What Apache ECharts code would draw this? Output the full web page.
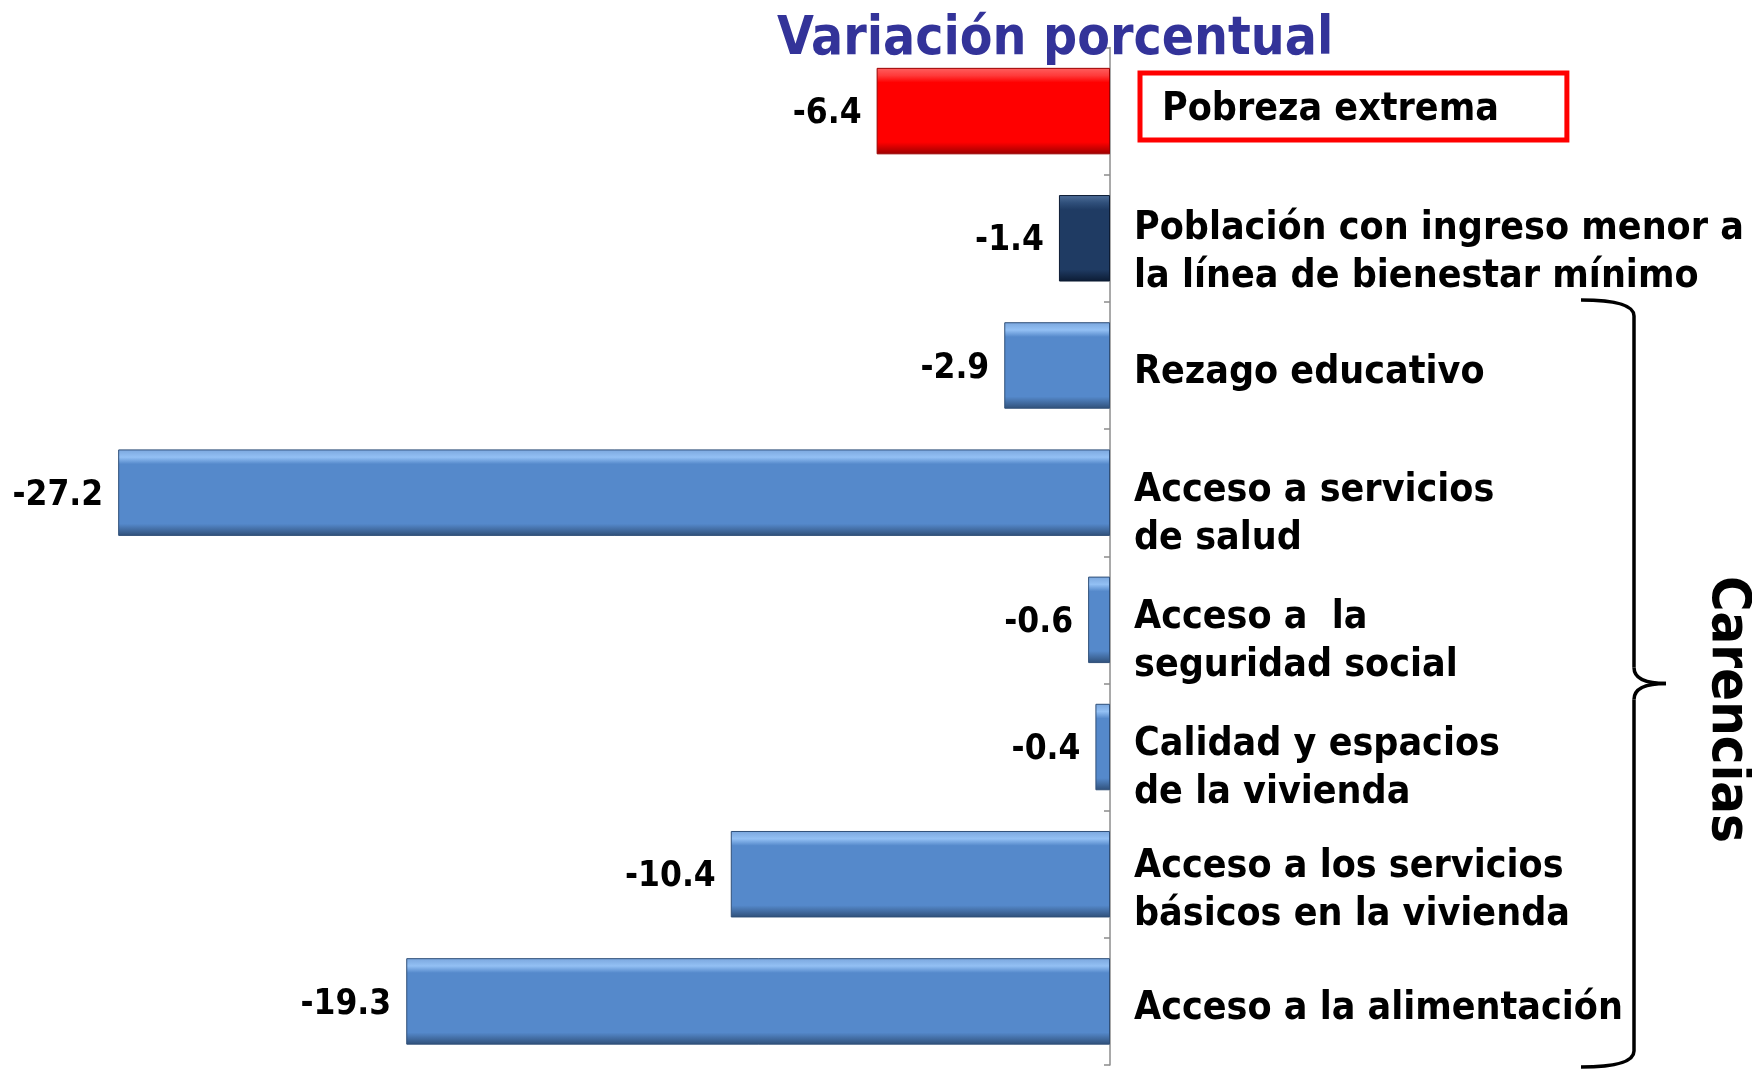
<!DOCTYPE html>
<html>
<head>
    <meta charset="UTF-8">
    <title>Variación porcentual</title>
    <script type="text/javascript" src="https://cdn.jsdelivr.net/npm/echarts@6/dist/echarts.min.js"></script>
    <style type="text/css">
        html, body {
            margin: 0;
            padding: 0;
            background: #fff;
        }
        #main_chart {
            width: 1752px;
            height: 1073px;
        }
    </style>
</head>
<body>
<div id="main_chart"></div>

<script type="text/javascript">
    // datos
    var categories = [
        'Pobreza extrema',
        'Población con ingreso menor a\nla línea de bienestar mínimo',
        'Rezago educativo',
        'Acceso a servicios\nde salud',
        'Acceso a  la\nseguridad social',
        'Calidad y espacios\nde la vivienda',
        'Acceso a los servicios\nbásicos en la vivienda',
        'Acceso a la alimentación'
    ];
    var values = [-6.4, -1.4, -2.9, -27.2, -0.6, -0.4, -10.4, -19.3];
    var titleText = 'Variación porcentual';
    var groupText = 'Carencias';
    var groupFrom = 2;   // primer indice de carencias
    var groupTo = 7;     // ultimo indice

    var FONT = '"DejaVu Sans Condensed", "DejaVu Sans", sans-serif';

    // desplazamiento vertical de cada etiqueta (alto de la linea vacia de arriba)
    var labelSpacer = [0, 30, 14, 44, 44, 44, 34, 14];

    // colores tipo bisel
    var redBar = ['#ff6060', '#ff3a3a', '#ff0000', '#9a0000'];
    var navyBar = ['#50709a', '#2f4f7a', '#1f3b63', '#0c1b33'];
    var blueBar = ['#7aa6dd', '#93c0f4', '#5589cb', '#2f4f78'];

    function bevel(c) {
        return new echarts.graphic.LinearGradient(0, 0, 0, 1, [
            {offset: 0, color: c[0]},
            {offset: 0.09, color: c[1]},
            {offset: 0.17, color: c[2]},
            {offset: 0.86, color: c[2]},
            {offset: 1, color: c[3]}
        ]);
    }

    var barData = [];
    for (var i = 0; i < values.length; i++) {
        var c = i === 0 ? redBar : (i === 1 ? navyBar : blueBar);
        barData.push({
            value: values[i],
            itemStyle: {
                color: bevel(c),
                borderColor: c[3],
                borderWidth: 1
            }
        });
    }

    var richLabel = {
        t: {
            fontFamily: FONT,
            fontWeight: 'bold',
            fontSize: 39,
            lineHeight: 48,
            color: '#000'
        },
        sp: {
            fontSize: 8,
            width: 6
        },
        box: {
            fontFamily: FONT,
            fontWeight: 'bold',
            fontSize: 39,
            lineHeight: 44,
            color: '#000',
            borderColor: '#ff0000',
            borderWidth: 5,
            padding: [17, 68, 11, 22]
        }
    };
    [9, 14, 30, 34, 44].forEach(function (h) {
        richLabel['s' + h] = {fontSize: 6, lineHeight: h};
    });

    var chart = echarts.init(document.getElementById('main_chart'));

    chart.setOption({
        animation: false,
        backgroundColor: '#fff',
        title: {
            text: titleText,
            left: 777,
            top: 14,
            padding: 0,
            textStyle: {
                fontFamily: FONT,
                fontWeight: 'bold',
                fontSize: 53,
                color: '#333399'
            }
        },
        grid: {
            left: 89,
            right: 642,
            top: 47.5,
            bottom: 8,
            containLabel: false,
            outerBoundsMode: 'none'
        },
        xAxis: {
            type: 'value',
            min: -28,
            max: 0,
            show: false
        },
        yAxis: {
            type: 'category',
            data: categories,
            inverse: true,
            position: 'right',
            axisLine: {
                show: true,
                lineStyle: {color: '#8c8c8c', width: 1.5}
            },
            axisTick: {
                show: true,
                inside: true,
                length: 6,
                lineStyle: {color: '#8c8c8c', width: 1.5}
            },
            splitLine: {show: false},
            axisLabel: {
                interval: 0,
                margin: 24,
                align: 'left',
                formatter: function (v, idx) {
                    if (idx === 0) {
                        return '{sp| }{box|' + v + '}\n{s9| }';
                    }
                    var lines = v.split('\n').map(function (s) {
                        return '{t|' + s + '}';
                    });
                    var sp = labelSpacer[idx];
                    if (sp) {
                        lines.unshift('{s' + sp + '| }');
                    }
                    return lines.join('\n');
                },
                rich: richLabel
            }
        },
        series: [{
            name: 'Variación',
            type: 'bar',
            data: barData,
            barCategoryGap: '32%',
            label: {
                show: true,
                position: 'left',
                distance: 15,
                offset: [0, 3],
                fontFamily: FONT,
                fontWeight: 'bold',
                fontSize: 35,
                color: '#000',
                formatter: function (p) {
                    return p.value.toFixed(1);
                }
            }
        }]
    });

    // llave de "Carencias" a partir de las posiciones del eje
    var yFirst = chart.convertToPixel({yAxisIndex: 0}, categories[groupFrom]);
    var ySecond = chart.convertToPixel({yAxisIndex: 0}, categories[groupFrom + 1]);
    var band = ySecond - yFirst;
    var yLast = chart.convertToPixel({yAxisIndex: 0}, categories[groupTo]);
    var braceTop = yFirst - band / 2 - 2;
    var braceBot = yLast + band / 2 + 2;
    var braceMid = (braceTop + braceBot) / 2;
    var xl = 1581, xv = 1634, xt = 1666, r = 16;
    var braceStyle = {stroke: '#000', lineWidth: 3.5, fill: null};

    chart.setOption({
        graphic: [
            {type: 'bezierCurve', shape: {x1: xl, y1: braceTop, cpx1: xv, cpy1: braceTop, x2: xv, y2: braceTop + r}, style: braceStyle},
            {type: 'line', shape: {x1: xv, y1: braceTop + r, x2: xv, y2: braceMid - r}, style: braceStyle},
            {type: 'bezierCurve', shape: {x1: xv, y1: braceMid - r, cpx1: xv, cpy1: braceMid, x2: xt, y2: braceMid}, style: braceStyle},
            {type: 'bezierCurve', shape: {x1: xt, y1: braceMid, cpx1: xv, cpy1: braceMid, x2: xv, y2: braceMid + r}, style: braceStyle},
            {type: 'line', shape: {x1: xv, y1: braceMid + r, x2: xv, y2: braceBot - r}, style: braceStyle},
            {type: 'bezierCurve', shape: {x1: xv, y1: braceBot - r, cpx1: xv, cpy1: braceBot, x2: xl, y2: braceBot}, style: braceStyle},
            {
                type: 'text',
                x: 1727,
                y: braceMid + 26,
                rotation: -Math.PI / 2,
                style: {
                    text: groupText,
                    fontFamily: FONT,
                    fontWeight: 'bold',
                    fontSize: 54,
                    fill: '#000',
                    align: 'center',
                    verticalAlign: 'middle'
                }
            }
        ]
    });
</script>
</body>
</html>
